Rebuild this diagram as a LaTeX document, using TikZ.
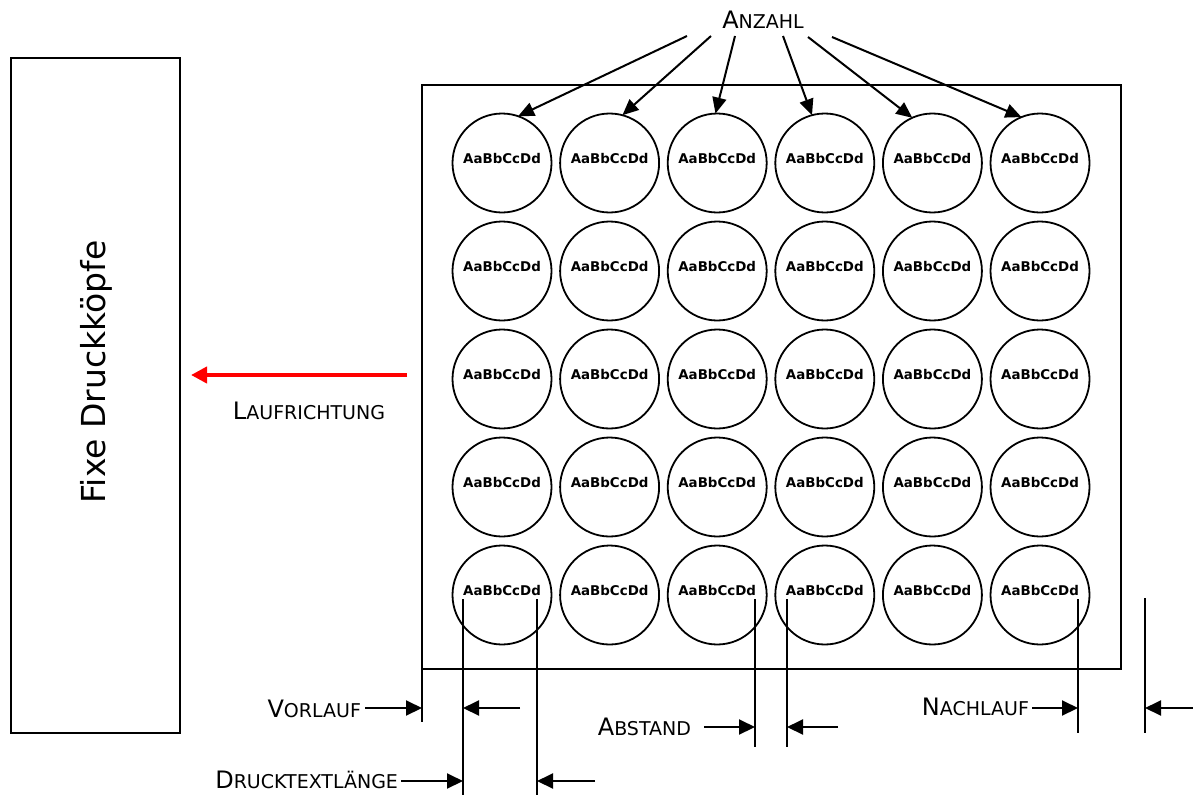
\documentclass[tikz,border=0pt]{standalone}
\usepackage{fontspec}
\setmainfont{DejaVu Sans}
\usetikzlibrary{arrows.meta}
\newcommand\smcap[2]{{\fontsize{24}{28}\selectfont #1}{\fontsize{19}{22}\selectfont #2}}
\begin{document}
\begin{tikzpicture}[x=1pt,y=-1pt,
  line width=2pt,
  disc/.style={circle, draw, line width=1.8pt, minimum size=99pt, inner sep=0pt, outer sep=0pt,
    font=\fontsize{13.4}{13.4}\selectfont\bfseries, text depth=10pt},
  frame/.style={draw, line width=1.8pt, inner sep=0pt, outer sep=0pt},
  lbl/.style={inner sep=0pt},
  anz/.style={-{Triangle[length=16pt,width=14pt]}, line width=2pt},
  dim/.style={-{Triangle[length=16pt,width=15pt]}, line width=2pt},
  ext/.style={line width=2pt},
  run/.style={-{Triangle[length=16pt,width=16pt]}, line width=4.5pt, draw=red}
]
\useasboundingbox (0,0) rectangle (1193,795);

% left box: fixed print heads
\node[frame, minimum width=169pt, minimum height=675pt] (heads) at (95.5,395.5) {};
\node[lbl, rotate=90, font=\fontsize{33}{33}\selectfont] (headtxt) at (96,372) {Fixe Druckköpfe};

% sheet
\node[frame, minimum width=699pt, minimum height=584pt] (sheet) at (771.5,377) {};

% circles
\foreach \i in {1,...,5}{
  \foreach \j in {1,...,6}{
    \node[disc] (c\i\j) at ({502+107.6*(\j-1)},{163+108*(\i-1)}) {AaBbCcDd};
  }
}

% Anzahl
\node[lbl, anchor=base] (anzahl) at (763,28) {\smcap{A}{NZAHL}};
\coordinate (a1) at (687,36);
\coordinate (a2) at (711,36);
\coordinate (a3) at (735,36);
\coordinate (a4) at (783,36);
\coordinate (a5) at (808,37);
\coordinate (a6) at (832,37);
\draw[anz] (a1) -- (c11.71);
\draw[anz] (a2) -- (c12.75);
\draw[anz] (a3) -- (c13.92);
\draw[anz] (a4) -- (c14.105);
\draw[anz] (a5) -- (c15.114);
\draw[anz] (a6) -- (c16.112);

% running direction
\coordinate (r0) at (407,375);
\coordinate (r1) at (191,375);
\draw[run] (r0) -- (r1);
\node[lbl, anchor=base] (lauf) at (309,419) {\smcap{L}{AUFRICHTUNG}};

% extension lines
\coordinate (v0b) at (422,722);
\draw[ext] (sheet.south west) -- (v0b);
\coordinate (v1t) at (463,599); \coordinate (v1b) at (463,795);
\coordinate (v2t) at (537,599); \coordinate (v2b) at (537,795);
\coordinate (v3t) at (755,599); \coordinate (v3b) at (755,747);
\coordinate (v4t) at (787,599); \coordinate (v4b) at (787,747);
\coordinate (v5t) at (1078,599); \coordinate (v5b) at (1078,733);
\coordinate (v6t) at (1145,598); \coordinate (v6b) at (1145,733);
\draw[ext] (v1t) -- (v1b);
\draw[ext] (v2t) -- (v2b);
\draw[ext] (v3t) -- (v3b);
\draw[ext] (v4t) -- (v4b);
\draw[ext] (v5t) -- (v5b);
\draw[ext] (v6t) -- (v6b);

% Vorlauf
\node[lbl, anchor=base east] (vorlauf) at (362,717) {\smcap{V}{ORLAUF}};
\coordinate (vl0) at (365,708);
\draw[dim] (vl0) -- (v0b |- vl0);
\coordinate (vl1) at (520,708);
\draw[dim] (vl1) -- (v1t |- vl1);

% Drucktextlaenge
\node[lbl, anchor=base east] (dlaenge) at (399,788) {\smcap{D}{RUCKTEXTLÄNGE}};
\coordinate (dl0) at (401,781);
\draw[dim] (dl0) -- (v1t |- dl0);
\coordinate (dl1) at (595,781);
\draw[dim] (dl1) -- (v2t |- dl1);

% Abstand
\node[lbl, anchor=base east] (abstand) at (692,735) {\smcap{A}{BSTAND}};
\coordinate (ab0) at (704,727);
\draw[dim] (ab0) -- (v3t |- ab0);
\coordinate (ab1) at (838,727);
\draw[dim] (ab1) -- (v4t |- ab1);

% Nachlauf
\node[lbl, anchor=base east] (nachlauf) at (1030,715) {\smcap{N}{ACHLAUF}};
\coordinate (nl0) at (1032,708);
\draw[dim] (nl0) -- (v5t |- nl0);
\coordinate (nl1) at (1193,708);
\draw[dim] (nl1) -- (v6t |- nl1);
\end{tikzpicture}
\end{document}
